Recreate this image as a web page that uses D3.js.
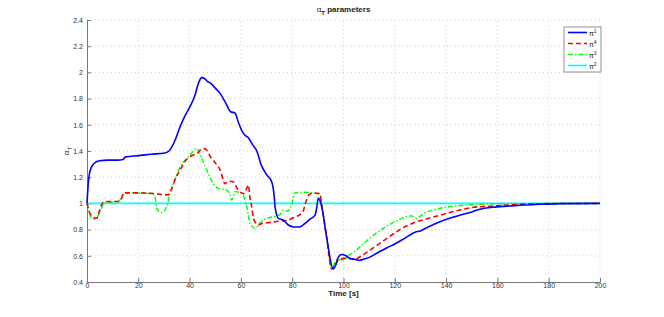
<!DOCTYPE html>
<html>
<head>
<meta charset="utf-8">
<script src="https://cdn.jsdelivr.net/npm/d3@7"></script>
<style>
  body { margin: 0; background: #fff; }
  text { font-family: "Liberation Sans", Arial, sans-serif; }
</style>
</head>
<body>
<div id="chart"></div>
<script>
// series: time [s] and alpha_T values
var tPi1 = [0,0.3,1.2,3,5,8,12,14,15,20,25,30.4,32,34.3,36.3,38,40.2,42,43.5,44.7,46,47,48,50,51.9,54,56,57.7,59,60.5,61.6,63,64.5,66.2,68,70,72,73,73.3,74.6,76.5,78.5,80.4,83,84.5,87,88.9,89.5,90.2,91.5,93.4,96,97,98,99.3,101,102.5,104,106.4,108,110.3,113,116.8,120,124,127.9,130,133,137.6,142,145.4,150,153.2,158,164.9,170,176.6,185,200];
var vPi1 = [1.0,1.1,1.25,1.31,1.325,1.33,1.33,1.335,1.355,1.365,1.375,1.385,1.40,1.48,1.585,1.66,1.74,1.82,1.92,1.96,1.95,1.93,1.92,1.88,1.84,1.77,1.70,1.69,1.62,1.55,1.52,1.50,1.45,1.40,1.29,1.22,1.165,1.05,0.975,0.886,0.873,0.835,0.82,0.82,0.84,0.88,0.91,0.96,1.04,0.975,0.745,0.50,0.53,0.59,0.61,0.60,0.58,0.575,0.565,0.575,0.59,0.62,0.66,0.69,0.735,0.78,0.79,0.82,0.86,0.89,0.91,0.935,0.955,0.97,0.98,0.988,0.993,0.998,1.0];

var tPi4 = [0,1,2,3.1,4,5.1,6.4,8,12.2,13.5,14.2,20,26,31.7,33,34.3,36.3,38.2,40.5,42.8,45.3,46.5,48,50,51.9,53.8,55,57,59,61,62.2,62.9,63.5,64.2,65,66.8,68,71.3,75.2,78,80.4,84,85.5,86.5,88.2,90.8,91.5,93.4,95.4,96.5,98,100,102.5,104,107,111.6,116,122,128.5,133,137.6,145.4,150.6,158.3,166,175,200];
var vPi4 = [1.0,0.93,0.90,0.886,0.89,0.96,1.01,1.015,1.015,1.04,1.08,1.08,1.075,1.065,1.11,1.18,1.255,1.32,1.36,1.38,1.42,1.41,1.36,1.31,1.255,1.15,1.17,1.165,1.10,1.075,1.11,1.14,1.05,0.975,0.88,0.835,0.845,0.855,0.865,0.87,0.89,0.93,1.02,1.065,1.08,1.075,0.99,0.745,0.50,0.52,0.57,0.58,0.58,0.57,0.60,0.66,0.72,0.80,0.86,0.885,0.91,0.95,0.97,0.98,0.99,0.997,1.0];

var tPi3 = [0,1,1.8,3.1,4,5.1,7,12,13.5,14.8,20,25,26.5,27.2,29.1,31.1,32.4,34.3,36.3,38.2,40.2,42.8,44.1,46.7,49.2,51.2,54.5,55.5,56.4,57.7,60.3,62.3,63.5,65.5,67.4,70,73,75.5,76.5,78,79.8,81,84.3,88,90.8,91.5,93.4,95.4,97.3,100,102,105.1,110,115.5,120,124.6,126.5,128.5,131,135,141.5,150,160,200];
var vPi3 = [1.0,0.92,0.886,0.88,0.895,0.94,1.005,1.015,1.04,1.08,1.08,1.075,1.05,0.96,0.93,0.975,1.08,1.18,1.28,1.33,1.37,1.42,1.37,1.255,1.15,1.115,1.10,1.08,1.025,1.09,1.08,0.975,0.85,0.81,0.85,0.885,0.90,0.92,0.95,0.94,0.99,1.08,1.085,1.08,1.07,0.99,0.75,0.50,0.57,0.57,0.60,0.645,0.73,0.81,0.86,0.90,0.905,0.886,0.92,0.95,0.975,0.99,0.997,1.0];

var tPi2 = [0,200];
var vPi2 = [1,1];

var seriesNames = ["\u03c0", "\u03c0", "\u03c0", "\u03c0"];
var seriesSup = ["1", "4", "3", "2"];
var seriesColors = ["#0000ff", "#ff0000", "#00ff00", "#00ffff"];
var seriesDash = [null, "5,3", "5,2,1.5,2", null];
var seriesWidth = [1.6, 1.6, 1.4, 1.6];

var xTicks = [0,20,40,60,80,100,120,140,160,180,200];
var yTicks = [0.4,0.6,0.8,1,1.2,1.4,1.6,1.8,2,2.2,2.4];

var width = 664, height = 317;
var margin = {left: 87, right: 64, top: 20, bottom: 35};

var svg = d3.select("#chart").append("svg")
  .attr("width", width)
  .attr("height", height);

var x = d3.scaleLinear().domain([0, 200]).range([margin.left, width - margin.right]);
var y = d3.scaleLinear().domain([0.4, 2.4]).range([height - margin.bottom, margin.top]);

// grid
var grid = svg.append("g").attr("class", "grid");
grid.selectAll(".gx").data(xTicks.slice(1)).enter().append("line")
  .attr("x1", function(d) { return x(d); }).attr("x2", function(d) { return x(d); })
  .attr("y1", y(0.4)).attr("y2", y(2.4))
  .attr("stroke", "#c4c4c4").attr("stroke-width", 0.8).attr("stroke-dasharray", "1,3");
grid.selectAll(".gy").data(yTicks.slice(1)).enter().append("line")
  .attr("x1", x(0)).attr("x2", x(200))
  .attr("y1", function(d) { return y(d); }).attr("y2", function(d) { return y(d); })
  .attr("stroke", "#c4c4c4").attr("stroke-width", 0.8).attr("stroke-dasharray", "1,3");

// axes
var xAxis = d3.axisBottom(x).tickValues(xTicks).tickSizeInner(-4).tickSizeOuter(0).tickPadding(4)
  .tickFormat(d3.format("d"));
var yAxis = d3.axisLeft(y).tickValues(yTicks).tickSizeInner(-4).tickSizeOuter(0).tickPadding(4)
  .tickFormat(function(d) { return d3.format("~g")(d); });

var gx = svg.append("g").attr("transform", "translate(0," + y(0.4) + ")").call(xAxis);
var gy = svg.append("g").attr("transform", "translate(" + x(0) + ",0)").call(yAxis);
[gx, gy].forEach(function(g) {
  g.select(".domain").attr("stroke", "#777");
  g.selectAll(".tick line").attr("stroke", "#777");
  g.selectAll(".tick text").attr("fill", "#333").style("font-size", "7px");
});
gx.selectAll(".tick text").attr("dy", "0.3em");

// lines
var seriesT = [tPi1, tPi4, tPi3, tPi2];
var seriesV = [vPi1, vPi4, vPi3, vPi2];
var line = d3.line()
  .x(function(d) { return x(d[0]); })
  .y(function(d) { return y(d[1]); })
  .curve(d3.curveMonotoneX);

var drawOrder = [3, 2, 1, 0];
drawOrder.forEach(function(i) {
  var pts = seriesT[i].map(function(t, k) { return [t, seriesV[i][k]]; });
  svg.append("path")
    .datum(pts)
    .attr("d", line)
    .attr("fill", "none")
    .attr("stroke", seriesColors[i])
    .attr("stroke-width", seriesWidth[i])
    .attr("stroke-dasharray", seriesDash[i]);
});

// title and labels
var title = svg.append("text")
  .attr("x", (x(0) + x(200)) / 2).attr("y", 12)
  .attr("text-anchor", "middle")
  .style("font-size", "8px").style("font-weight", "bold").attr("fill", "#222");
title.append("tspan").text("\u03b1").style("font-weight", "normal");
title.append("tspan").text("T").attr("dy", 2.5).style("font-size", "6px");
title.append("tspan").text(" parameters").attr("dy", -2.5);

svg.append("text")
  .attr("x", (x(0) + x(200)) / 2).attr("y", 296)
  .attr("text-anchor", "middle")
  .style("font-size", "8px").style("font-weight", "bold").attr("fill", "#222")
  .text("Time [s]");

var ylab = svg.append("text")
  .attr("transform", "translate(69," + y(1.4) + ") rotate(-90)")
  .attr("text-anchor", "middle")
  .style("font-size", "8px").attr("fill", "#222");
ylab.append("tspan").text("\u03b1");
ylab.append("tspan").text("T").attr("dy", 2.5).style("font-size", "6px");

// legend
var legend = svg.append("g").attr("transform", "translate(564,27)");
legend.append("rect")
  .attr("width", 37).attr("height", 45)
  .attr("fill", "#fff").attr("stroke", "#777").attr("stroke-width", 0.8);
var rows = legend.selectAll(".row").data(d3.range(4)).enter().append("g")
  .attr("transform", function(d) { return "translate(0," + (5.5 + d * 11) + ")"; });
rows.append("line")
  .attr("x1", 4).attr("x2", 23).attr("y1", 0).attr("y2", 0)
  .attr("stroke", function(d) { return seriesColors[d]; })
  .attr("stroke-width", function(d) { return seriesWidth[d]; })
  .attr("stroke-dasharray", function(d) { return seriesDash[d]; });
var lt = rows.append("text")
  .attr("x", 25).attr("y", 3)
  .style("font-size", "7px").attr("fill", "#222");
lt.append("tspan").text(function(d) { return seriesNames[d]; });
lt.append("tspan").text(function(d) { return seriesSup[d]; })
  .attr("dy", -3).style("font-size", "5px");
</script>
</body>
</html>
